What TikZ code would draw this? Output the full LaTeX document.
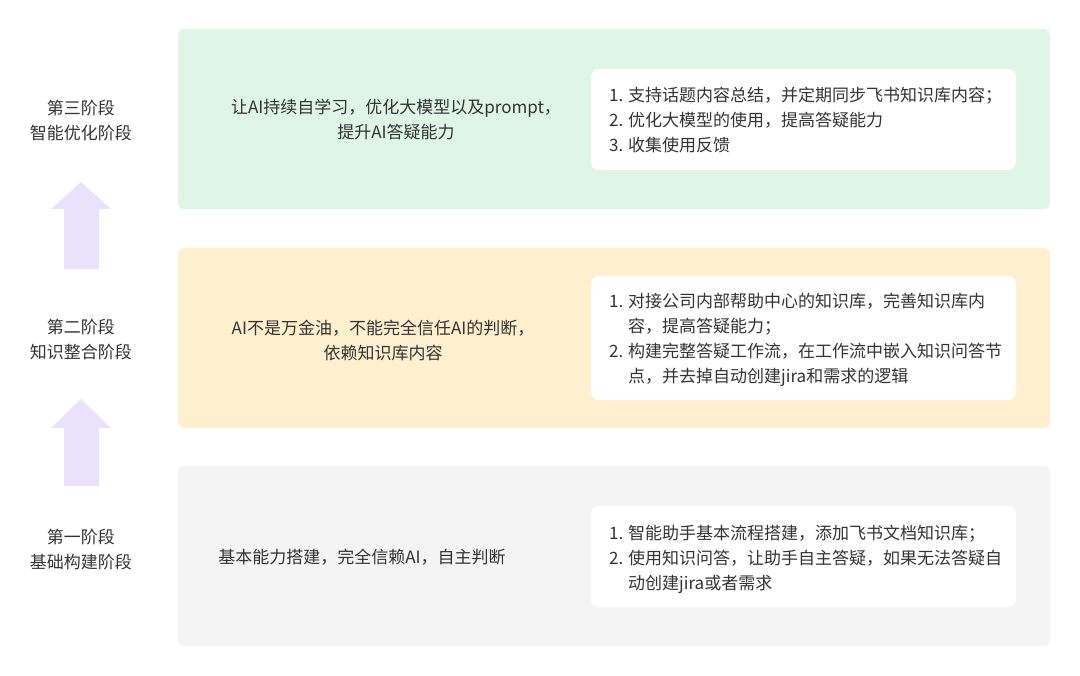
\documentclass[tikz,border=0pt]{standalone}
\usepackage{fontspec}
\setmainfont{Noto Sans CJK SC}
\definecolor{txt}{HTML}{333333}
\definecolor{pgreen}{HTML}{DFF5E6}
\definecolor{pyellow}{HTML}{FEF0CE}
\definecolor{pgray}{HTML}{F4F4F4}
\definecolor{lav}{HTML}{E9E2FD}
\newcommand{\nm}[1]{\makebox[19pt][l]{#1}}
\begin{document}
\begin{tikzpicture}[x=1pt,y=-1pt,
  panel/.style={rounded corners=6pt, draw=none, minimum width=872, minimum height=180, inner sep=0},
  card/.style={fill=white, rounded corners=8pt, draw=none, minimum width=425, inner sep=0},
  lbl/.style={text=txt, font=\fontsize{17}{25}\selectfont, align=center, inner sep=0},
  lst/.style={text=txt, font=\fontsize{17}{25}\selectfont, inner sep=0, anchor=west},
  uparrow/.style={fill=lav, draw=none}]
\useasboundingbox (0,0) rectangle (1080,676);
\fill[white] (0,0) rectangle (1080,676);

% panels
\node[panel, fill=pgreen]  (p3) at (614,119) {};
\node[panel, fill=pyellow] (p2) at (614,338) {};
\node[panel, fill=pgray]   (p1) at (614,556) {};

% white cards
\node[card, minimum height=101] (c3) at (803.5,119.5) {};
\node[card, minimum height=124] (c2) at (803.5,338) {};
\node[card, minimum height=101] (c1) at (803.5,556.5) {};

% stage labels
\node[lbl] (s3) at (81,120.5) {第三阶段\\智能优化阶段};
\node[lbl] (s2) at (81,339.5) {第二阶段\\知识整合阶段};
\node[lbl] (s1) at (81,549.5) {第一阶段\\基础构建阶段};

% arrows
\fill[uparrow] (81,182) -- (111,209) -- (99,209) -- (99,269) -- (64,269) -- (64,209) -- (51,209) -- cycle;
\fill[uparrow] (81,399) -- (111,428) -- (99,428) -- (99,486) -- (64,486) -- (64,428) -- (51,428) -- cycle;

% middle texts
\node[lbl] (m3) at (396,120) {让AI持续自学习，优化大模型以及prompt，\\提升AI答疑能力};
\node[lbl] (m2) at (383,340.5) {AI不是万金油，不能完全信任AI的判断，\\依赖知识库内容};
\node[lbl] (m1) at (362,557) {基本能力搭建，完全信赖AI，自主判断};

% lists
\node[lst] (l3) at (609,122) {\begin{tabular}{@{}l@{}l@{}}
\nm{1.} & 支持话题内容总结，并定期同步飞书知识库内容；\\
\nm{2.} & 优化大模型的使用，提高答疑能力\\
\nm{3.} & 收集使用反馈
\end{tabular}};
\node[lst] (l2) at (609,340) {\begin{tabular}{@{}l@{}l@{}}
\nm{1.} & 对接公司内部帮助中心的知识库，完善知识库内\\
 & 容，提高答疑能力；\\
\nm{2.} & 构建完整答疑工作流，在工作流中嵌入知识问答节\\
 & 点，并去掉自动创建jira和需求的逻辑
\end{tabular}};
\node[lst] (l1) at (609,559.5) {\begin{tabular}{@{}l@{}l@{}}
\nm{1.} & 智能助手基本流程搭建，添加飞书文档知识库；\\
\nm{2.} & 使用知识问答，让助手自主答疑，如果无法答疑自\\
 & 动创建jira或者需求
\end{tabular}};
\end{tikzpicture}
\end{document}
